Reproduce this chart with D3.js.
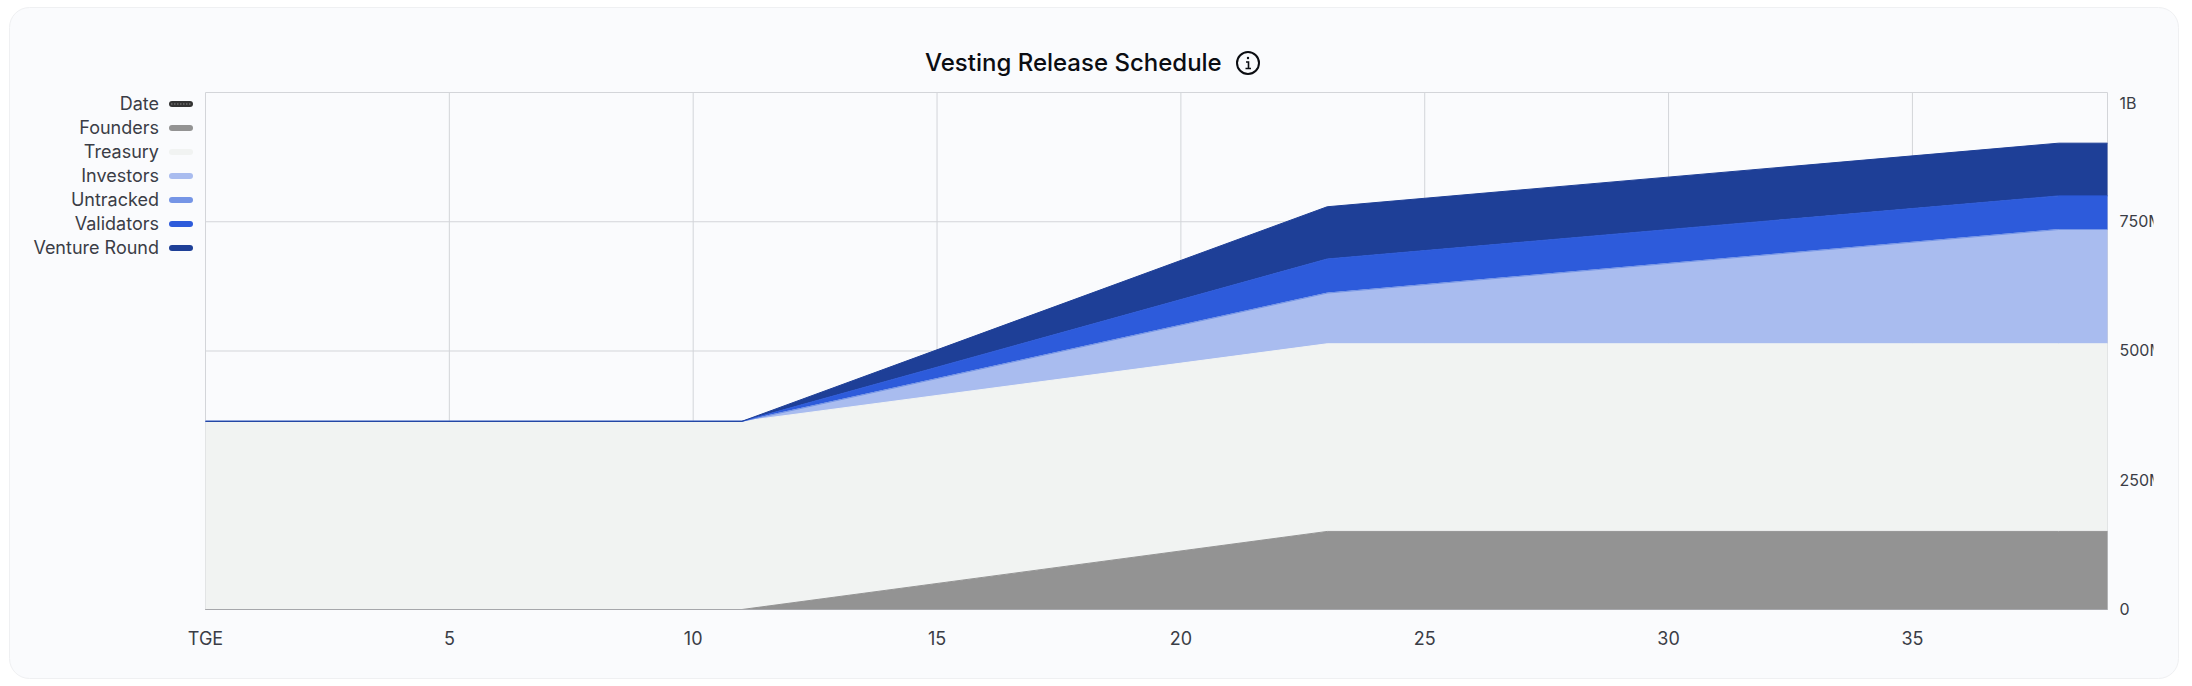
<!DOCTYPE html>
<html>
<head>
<meta charset="utf-8">
<script src="https://cdn.jsdelivr.net/npm/d3@7"></script>
<style>
  html, body { margin: 0; padding: 0; background: #fff; }
  svg { display: block; }
  text { font-family: Inter, "Noto Sans", sans-serif; }
</style>
</head>
<body>
<script>
// months where the schedule changes slope
const months = [0, 11, 23, 38, 39];

const founders = [0, 0, 151e6, 151e6, 151e6];
const treasury = [364e6, 364e6, 363e6, 363e6, 363e6];
const investors = [0, 0, 98e6, 221e6, 221e6];
const untracked = [0, 0, 0, 0, 0];
const validators = [0, 0, 66e6, 65e6, 65e6];
const ventureRound = [0, 0, 101e6, 102e6, 102e6];

const seriesNames = ["Founders", "Treasury", "Investors", "Untracked", "Validators", "Venture Round"];
const seriesValues = [founders, treasury, investors, untracked, validators, ventureRound];
const legendNames = ["Date", "Founders", "Treasury", "Investors", "Untracked", "Validators", "Venture Round"];
const legendColors = ["#333333", "#939393", "#f1f3f2", "#a9bcef", "#7595e6", "#2d5bdb", "#1e3f97"];

const xTicks = [0, 5, 10, 15, 20, 25, 30, 35];
const yTicks = [0, 250e6, 500e6, 750e6, 1e9];
const yTickLabels = ["0", "250M", "500M", "750M", "1B"];

const width = 2192;
const height = 686;
const margin = { top: 92.5, right: 84.5, bottom: 76.5, left: 205.5 };

const svg = d3.select("body").append("svg")
    .attr("width", width)
    .attr("height", height);

// card behind the chart
svg.append("rect")
    .attr("x", 9.5)
    .attr("y", 7.5)
    .attr("width", 2169)
    .attr("height", 671)
    .attr("rx", 20)
    .attr("fill", "#fafbfd")
    .attr("stroke", "#eff0f2");

// title and info icon
svg.append("text")
    .attr("x", 925)
    .attr("y", 71)
    .attr("font-size", 24)
    .attr("font-weight", 500)
    .attr("fill", "#0b0d12")
    .text("Vesting Release Schedule");

const icon = svg.append("g")
    .attr("transform", "translate(1248,63)")
    .attr("fill", "none")
    .attr("stroke", "#0b0d12")
    .attr("stroke-width", 2);
icon.append("circle").attr("r", 11);
icon.append("path").attr("d", "M-2,-1H0.5V5.5M-2.5,5.5H3").attr("stroke-width", 1.6);
icon.append("circle").attr("cx", 0).attr("cy", -5).attr("r", 1.2).attr("fill", "#0b0d12").attr("stroke", "none");

// scales
const xScale = d3.scaleLinear()
    .domain([0, 39])
    .range([margin.left, width - margin.right]);

const yScale = d3.scaleLinear()
    .domain([0, 1e9])
    .range([height - margin.bottom, margin.top]);

// grid
const gridColor = "#d3d5d9";
svg.append("g")
    .attr("transform", `translate(0,${margin.top})`)
    .call(d3.axisBottom(xScale).offset(0).tickValues(xTicks).tickSize(height - margin.top - margin.bottom).tickFormat(""))
    .call(g => g.select(".domain").remove())
    .call(g => g.selectAll("line").attr("stroke", gridColor).attr("stroke-width", 1));

svg.append("g")
    .attr("transform", `translate(${margin.left},0)`)
    .call(d3.axisRight(yScale).offset(0).tickValues(yTicks).tickSize(width - margin.left - margin.right).tickFormat(""))
    .call(g => g.select(".domain").remove())
    .call(g => g.selectAll("line").attr("stroke", gridColor).attr("stroke-width", 1));

svg.append("line")
    .attr("x1", xScale(39)).attr("x2", xScale(39))
    .attr("y1", margin.top).attr("y2", height - margin.bottom)
    .attr("stroke", gridColor);

// stacked areas
const rows = months.map((m, i) => {
    const row = { month: m };
    seriesNames.forEach((name, s) => { row[name] = seriesValues[s][i]; });
    return row;
});
const layers = d3.stack().keys(seriesNames)(rows);
const colorOf = d3.scaleOrdinal().domain(legendNames).range(legendColors);

const area = d3.area()
    .x(d => xScale(d.data.month))
    .y0(d => yScale(d[0]))
    .y1(d => yScale(d[1]));

const topLine = d3.line()
    .x(d => xScale(d.data.month))
    .y(d => yScale(d[1]));

svg.selectAll("path.band")
    .data(layers)
    .enter()
    .append("path")
    .attr("class", "band")
    .attr("d", area)
    .attr("fill", d => colorOf(d.key));

svg.selectAll("path.edge")
    .data(layers)
    .enter()
    .append("path")
    .attr("class", "edge")
    .attr("d", topLine)
    .attr("fill", "none")
    .attr("stroke", d => colorOf(d.key))
    .attr("stroke-width", 1);

// baseline
svg.append("line")
    .attr("x1", margin.left).attr("x2", xScale(39))
    .attr("y1", yScale(0)).attr("y2", yScale(0))
    .attr("stroke", "#a6a7ab");

// axes
svg.append("g")
    .attr("transform", `translate(0,${height - margin.bottom})`)
    .call(d3.axisBottom(xScale).offset(0).tickValues(xTicks).tickSize(0).tickPadding(0)
        .tickFormat(d => d === 0 ? "TGE" : d))
    .call(g => g.select(".domain").remove())
    .call(g => g.selectAll("text")
        .attr("y", 29.5)
        .attr("dy", "0.36em")
        .attr("font-family", "Inter")
        .attr("font-size", 18)
        .attr("fill", "#3a3d46"));

// the right labels are cut off by the card padding in the original
svg.append("clipPath").attr("id", "yClip")
    .append("rect")
    .attr("x", width - margin.right)
    .attr("y", 0)
    .attr("width", 46)
    .attr("height", height);

svg.append("g")
    .attr("clip-path", "url(#yClip)")
    .append("g")
    .attr("transform", `translate(${width - margin.right},0)`)
    .call(d3.axisRight(yScale).offset(0).tickValues(yTicks).tickSize(0).tickPadding(12)
        .tickFormat((d, i) => yTickLabels[i]))
    .call(g => g.select(".domain").remove())
    .call(g => g.selectAll("text")
        .attr("dy", d => d === 1e9 ? "1.0em" : "0.34em")
        .attr("font-family", "Inter")
        .attr("font-size", 16)
        .attr("fill", "#3a3d46"));

// legend
const legend = svg.selectAll("g.legend")
    .data(legendNames)
    .enter()
    .append("g")
    .attr("class", "legend")
    .attr("transform", (d, i) => `translate(0,${104 + i * 24})`);

legend.append("text")
    .attr("x", 159)
    .attr("dy", "0.35em")
    .attr("text-anchor", "end")
    .attr("font-size", 18)
    .attr("fill", "#3a3d46")
    .text(d => d);

legend.append("rect")
    .attr("x", 169)
    .attr("y", -3)
    .attr("width", 24)
    .attr("height", 6)
    .attr("rx", 3)
    .attr("fill", d => colorOf(d));

// the Date swatch is dotted
legend.filter(d => d === "Date").append("line")
    .attr("x1", 171).attr("x2", 191)
    .attr("stroke", "#6d6d6d")
    .attr("stroke-width", 1.5)
    .attr("stroke-dasharray", "1.5,1.5");
</script>
</body>
</html>
